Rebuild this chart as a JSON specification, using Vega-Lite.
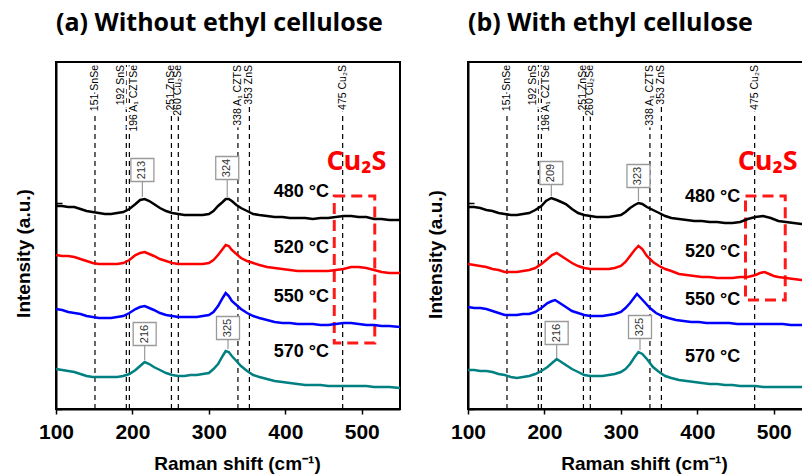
{
"$schema": "https://vega.github.io/schema/vega-lite/v6.json",
"padding": {"left": 13, "top": 10, "right": 0, "bottom": 0},
"background": "white",
"spacing": 19,
"config": {
 "view": {"stroke": "black", "strokeWidth": 2},
 "axis": {"domainColor": "black", "domainWidth": 2, "tickColor": "black", "tickWidth": 1.5, "grid": false, "labelFont": "Liberation Sans", "labelFontWeight": "bold", "labelFontSize": 21, "labelColor": "black", "titleFont": "Liberation Sans", "titleFontWeight": "bold", "titleFontSize": 19, "titleColor": "black"},
 "title": {"font": "Open Sans", "fontSize": 25, "fontWeight": "bold", "color": "black", "anchor": "start", "offset": 26, "frame": "group"}
},
"datasets": {
 "spec": [
{"p":"a","t":"480","x":100,"y":203},{"p":"a","t":"480","x":108,"y":203},{"p":"a","t":"480","x":116,"y":202},{"p":"a","t":"480","x":124,"y":202},{"p":"a","t":"480","x":132,"y":200},{"p":"a","t":"480","x":140,"y":198},{"p":"a","t":"480","x":148,"y":197},{"p":"a","t":"480","x":156,"y":196},{"p":"a","t":"480","x":164,"y":195},{"p":"a","t":"480","x":172,"y":195},{"p":"a","t":"480","x":180,"y":196},{"p":"a","t":"480","x":188,"y":197},{"p":"a","t":"480","x":196,"y":200},{"p":"a","t":"480","x":204,"y":205},{"p":"a","t":"480","x":210,"y":209},{"p":"a","t":"480","x":216,"y":210},{"p":"a","t":"480","x":222,"y":208},{"p":"a","t":"480","x":228,"y":205},{"p":"a","t":"480","x":236,"y":201},{"p":"a","t":"480","x":244,"y":198},{"p":"a","t":"480","x":252,"y":196},{"p":"a","t":"480","x":260,"y":195},{"p":"a","t":"480","x":268,"y":194},{"p":"a","t":"480","x":276,"y":194},{"p":"a","t":"480","x":284,"y":194},{"p":"a","t":"480","x":292,"y":194},{"p":"a","t":"480","x":300,"y":195},{"p":"a","t":"480","x":306,"y":198},{"p":"a","t":"480","x":312,"y":203},{"p":"a","t":"480","x":318,"y":207},{"p":"a","t":"480","x":322,"y":210},{"p":"a","t":"480","x":326,"y":210},{"p":"a","t":"480","x":330,"y":208},{"p":"a","t":"480","x":336,"y":204},{"p":"a","t":"480","x":342,"y":201},{"p":"a","t":"480","x":350,"y":198},{"p":"a","t":"480","x":358,"y":195},{"p":"a","t":"480","x":366,"y":194},{"p":"a","t":"480","x":376,"y":193},{"p":"a","t":"480","x":386,"y":192},{"p":"a","t":"480","x":396,"y":192},{"p":"a","t":"480","x":406,"y":191},{"p":"a","t":"480","x":416,"y":191},{"p":"a","t":"480","x":426,"y":191},{"p":"a","t":"480","x":436,"y":190},{"p":"a","t":"480","x":446,"y":191},{"p":"a","t":"480","x":456,"y":191},{"p":"a","t":"480","x":466,"y":192},{"p":"a","t":"480","x":476,"y":193},{"p":"a","t":"480","x":486,"y":193},{"p":"a","t":"480","x":496,"y":192},{"p":"a","t":"480","x":506,"y":192},{"p":"a","t":"480","x":516,"y":190},{"p":"a","t":"480","x":526,"y":190},{"p":"a","t":"480","x":536,"y":189},{"p":"a","t":"480","x":550,"y":189},
{"p":"a","t":"520","x":100,"y":154},{"p":"a","t":"520","x":108,"y":153},{"p":"a","t":"520","x":116,"y":153},{"p":"a","t":"520","x":124,"y":152},{"p":"a","t":"520","x":132,"y":150},{"p":"a","t":"520","x":140,"y":148},{"p":"a","t":"520","x":148,"y":146},{"p":"a","t":"520","x":156,"y":145},{"p":"a","t":"520","x":164,"y":145},{"p":"a","t":"520","x":172,"y":145},{"p":"a","t":"520","x":180,"y":145},{"p":"a","t":"520","x":188,"y":146},{"p":"a","t":"520","x":196,"y":149},{"p":"a","t":"520","x":204,"y":154},{"p":"a","t":"520","x":210,"y":156},{"p":"a","t":"520","x":216,"y":157},{"p":"a","t":"520","x":222,"y":155},{"p":"a","t":"520","x":228,"y":153},{"p":"a","t":"520","x":236,"y":150},{"p":"a","t":"520","x":244,"y":148},{"p":"a","t":"520","x":252,"y":146},{"p":"a","t":"520","x":260,"y":145},{"p":"a","t":"520","x":268,"y":145},{"p":"a","t":"520","x":276,"y":145},{"p":"a","t":"520","x":284,"y":145},{"p":"a","t":"520","x":292,"y":145},{"p":"a","t":"520","x":300,"y":146},{"p":"a","t":"520","x":306,"y":149},{"p":"a","t":"520","x":312,"y":154},{"p":"a","t":"520","x":318,"y":160},{"p":"a","t":"520","x":322,"y":164},{"p":"a","t":"520","x":326,"y":163},{"p":"a","t":"520","x":330,"y":159},{"p":"a","t":"520","x":336,"y":155},{"p":"a","t":"520","x":342,"y":151},{"p":"a","t":"520","x":350,"y":148},{"p":"a","t":"520","x":358,"y":146},{"p":"a","t":"520","x":366,"y":144},{"p":"a","t":"520","x":376,"y":142},{"p":"a","t":"520","x":386,"y":141},{"p":"a","t":"520","x":396,"y":140},{"p":"a","t":"520","x":406,"y":139},{"p":"a","t":"520","x":416,"y":138},{"p":"a","t":"520","x":426,"y":138},{"p":"a","t":"520","x":436,"y":138},{"p":"a","t":"520","x":446,"y":138},{"p":"a","t":"520","x":456,"y":138},{"p":"a","t":"520","x":466,"y":139},{"p":"a","t":"520","x":476,"y":140},{"p":"a","t":"520","x":486,"y":142},{"p":"a","t":"520","x":496,"y":142},{"p":"a","t":"520","x":506,"y":141},{"p":"a","t":"520","x":516,"y":139},{"p":"a","t":"520","x":526,"y":137},{"p":"a","t":"520","x":536,"y":136},{"p":"a","t":"520","x":550,"y":136},
{"p":"a","t":"550","x":100,"y":100},{"p":"a","t":"550","x":108,"y":99},{"p":"a","t":"550","x":116,"y":97},{"p":"a","t":"550","x":124,"y":96},{"p":"a","t":"550","x":132,"y":95},{"p":"a","t":"550","x":140,"y":93},{"p":"a","t":"550","x":148,"y":92},{"p":"a","t":"550","x":156,"y":91},{"p":"a","t":"550","x":164,"y":91},{"p":"a","t":"550","x":172,"y":91},{"p":"a","t":"550","x":180,"y":92},{"p":"a","t":"550","x":188,"y":93},{"p":"a","t":"550","x":196,"y":96},{"p":"a","t":"550","x":204,"y":100},{"p":"a","t":"550","x":210,"y":102},{"p":"a","t":"550","x":216,"y":103},{"p":"a","t":"550","x":222,"y":101},{"p":"a","t":"550","x":228,"y":99},{"p":"a","t":"550","x":236,"y":96},{"p":"a","t":"550","x":244,"y":94},{"p":"a","t":"550","x":252,"y":93},{"p":"a","t":"550","x":260,"y":92},{"p":"a","t":"550","x":268,"y":92},{"p":"a","t":"550","x":276,"y":92},{"p":"a","t":"550","x":284,"y":92},{"p":"a","t":"550","x":292,"y":93},{"p":"a","t":"550","x":300,"y":94},{"p":"a","t":"550","x":306,"y":97},{"p":"a","t":"550","x":312,"y":103},{"p":"a","t":"550","x":318,"y":111},{"p":"a","t":"550","x":322,"y":116},{"p":"a","t":"550","x":326,"y":113},{"p":"a","t":"550","x":330,"y":108},{"p":"a","t":"550","x":336,"y":104},{"p":"a","t":"550","x":342,"y":100},{"p":"a","t":"550","x":350,"y":96},{"p":"a","t":"550","x":358,"y":93},{"p":"a","t":"550","x":366,"y":91},{"p":"a","t":"550","x":376,"y":89},{"p":"a","t":"550","x":386,"y":87},{"p":"a","t":"550","x":396,"y":86},{"p":"a","t":"550","x":406,"y":86},{"p":"a","t":"550","x":416,"y":85},{"p":"a","t":"550","x":426,"y":85},{"p":"a","t":"550","x":436,"y":85},{"p":"a","t":"550","x":446,"y":84},{"p":"a","t":"550","x":456,"y":84},{"p":"a","t":"550","x":466,"y":85},{"p":"a","t":"550","x":476,"y":86},{"p":"a","t":"550","x":486,"y":86},{"p":"a","t":"550","x":496,"y":85},{"p":"a","t":"550","x":506,"y":84},{"p":"a","t":"550","x":516,"y":84},{"p":"a","t":"550","x":526,"y":83},{"p":"a","t":"550","x":536,"y":83},{"p":"a","t":"550","x":550,"y":82},
{"p":"a","t":"570","x":100,"y":40},{"p":"a","t":"570","x":108,"y":39},{"p":"a","t":"570","x":116,"y":38},{"p":"a","t":"570","x":124,"y":37},{"p":"a","t":"570","x":132,"y":35},{"p":"a","t":"570","x":140,"y":33},{"p":"a","t":"570","x":148,"y":32},{"p":"a","t":"570","x":156,"y":32},{"p":"a","t":"570","x":164,"y":32},{"p":"a","t":"570","x":172,"y":32},{"p":"a","t":"570","x":180,"y":32},{"p":"a","t":"570","x":188,"y":33},{"p":"a","t":"570","x":196,"y":35},{"p":"a","t":"570","x":204,"y":39},{"p":"a","t":"570","x":210,"y":43},{"p":"a","t":"570","x":216,"y":47},{"p":"a","t":"570","x":222,"y":45},{"p":"a","t":"570","x":228,"y":42},{"p":"a","t":"570","x":236,"y":39},{"p":"a","t":"570","x":244,"y":36},{"p":"a","t":"570","x":252,"y":34},{"p":"a","t":"570","x":260,"y":33},{"p":"a","t":"570","x":268,"y":33},{"p":"a","t":"570","x":276,"y":34},{"p":"a","t":"570","x":284,"y":34},{"p":"a","t":"570","x":292,"y":35},{"p":"a","t":"570","x":300,"y":36},{"p":"a","t":"570","x":306,"y":40},{"p":"a","t":"570","x":312,"y":45},{"p":"a","t":"570","x":318,"y":53},{"p":"a","t":"570","x":322,"y":58},{"p":"a","t":"570","x":326,"y":57},{"p":"a","t":"570","x":330,"y":53},{"p":"a","t":"570","x":336,"y":48},{"p":"a","t":"570","x":342,"y":43},{"p":"a","t":"570","x":350,"y":38},{"p":"a","t":"570","x":358,"y":34},{"p":"a","t":"570","x":366,"y":32},{"p":"a","t":"570","x":376,"y":30},{"p":"a","t":"570","x":386,"y":28},{"p":"a","t":"570","x":396,"y":27},{"p":"a","t":"570","x":406,"y":26},{"p":"a","t":"570","x":416,"y":25},{"p":"a","t":"570","x":426,"y":24},{"p":"a","t":"570","x":436,"y":24},{"p":"a","t":"570","x":446,"y":24},{"p":"a","t":"570","x":456,"y":23},{"p":"a","t":"570","x":466,"y":23},{"p":"a","t":"570","x":476,"y":23},{"p":"a","t":"570","x":486,"y":23},{"p":"a","t":"570","x":496,"y":23},{"p":"a","t":"570","x":506,"y":23},{"p":"a","t":"570","x":516,"y":22},{"p":"a","t":"570","x":526,"y":22},{"p":"a","t":"570","x":536,"y":22},{"p":"a","t":"570","x":550,"y":21},
{"p":"b","t":"480","x":100,"y":202},{"p":"b","t":"480","x":108,"y":202},{"p":"b","t":"480","x":116,"y":201},{"p":"b","t":"480","x":124,"y":199},{"p":"b","t":"480","x":132,"y":198},{"p":"b","t":"480","x":140,"y":196},{"p":"b","t":"480","x":148,"y":195},{"p":"b","t":"480","x":156,"y":194},{"p":"b","t":"480","x":164,"y":194},{"p":"b","t":"480","x":172,"y":195},{"p":"b","t":"480","x":180,"y":196},{"p":"b","t":"480","x":188,"y":199},{"p":"b","t":"480","x":196,"y":203},{"p":"b","t":"480","x":202,"y":208},{"p":"b","t":"480","x":209,"y":211},{"p":"b","t":"480","x":216,"y":209},{"p":"b","t":"480","x":222,"y":207},{"p":"b","t":"480","x":228,"y":205},{"p":"b","t":"480","x":236,"y":200},{"p":"b","t":"480","x":244,"y":196},{"p":"b","t":"480","x":252,"y":194},{"p":"b","t":"480","x":260,"y":193},{"p":"b","t":"480","x":268,"y":192},{"p":"b","t":"480","x":276,"y":192},{"p":"b","t":"480","x":284,"y":192},{"p":"b","t":"480","x":292,"y":193},{"p":"b","t":"480","x":300,"y":194},{"p":"b","t":"480","x":306,"y":197},{"p":"b","t":"480","x":312,"y":201},{"p":"b","t":"480","x":318,"y":204},{"p":"b","t":"480","x":323,"y":206},{"p":"b","t":"480","x":328,"y":205},{"p":"b","t":"480","x":334,"y":202},{"p":"b","t":"480","x":342,"y":199},{"p":"b","t":"480","x":350,"y":196},{"p":"b","t":"480","x":358,"y":193},{"p":"b","t":"480","x":366,"y":191},{"p":"b","t":"480","x":376,"y":190},{"p":"b","t":"480","x":386,"y":189},{"p":"b","t":"480","x":396,"y":188},{"p":"b","t":"480","x":406,"y":188},{"p":"b","t":"480","x":416,"y":187},{"p":"b","t":"480","x":426,"y":187},{"p":"b","t":"480","x":436,"y":186},{"p":"b","t":"480","x":446,"y":186},{"p":"b","t":"480","x":456,"y":187},{"p":"b","t":"480","x":466,"y":190},{"p":"b","t":"480","x":476,"y":192},{"p":"b","t":"480","x":486,"y":193},{"p":"b","t":"480","x":496,"y":191},{"p":"b","t":"480","x":506,"y":188},{"p":"b","t":"480","x":516,"y":187},{"p":"b","t":"480","x":526,"y":186},{"p":"b","t":"480","x":536,"y":185},{"p":"b","t":"480","x":550,"y":185},
{"p":"b","t":"520","x":100,"y":145},{"p":"b","t":"520","x":108,"y":144},{"p":"b","t":"520","x":116,"y":143},{"p":"b","t":"520","x":124,"y":142},{"p":"b","t":"520","x":132,"y":140},{"p":"b","t":"520","x":140,"y":139},{"p":"b","t":"520","x":148,"y":137},{"p":"b","t":"520","x":156,"y":137},{"p":"b","t":"520","x":164,"y":137},{"p":"b","t":"520","x":172,"y":138},{"p":"b","t":"520","x":180,"y":139},{"p":"b","t":"520","x":188,"y":141},{"p":"b","t":"520","x":196,"y":145},{"p":"b","t":"520","x":204,"y":150},{"p":"b","t":"520","x":210,"y":154},{"p":"b","t":"520","x":216,"y":156},{"p":"b","t":"520","x":222,"y":153},{"p":"b","t":"520","x":228,"y":150},{"p":"b","t":"520","x":236,"y":146},{"p":"b","t":"520","x":244,"y":143},{"p":"b","t":"520","x":252,"y":141},{"p":"b","t":"520","x":260,"y":140},{"p":"b","t":"520","x":268,"y":140},{"p":"b","t":"520","x":276,"y":140},{"p":"b","t":"520","x":284,"y":140},{"p":"b","t":"520","x":292,"y":141},{"p":"b","t":"520","x":300,"y":143},{"p":"b","t":"520","x":306,"y":147},{"p":"b","t":"520","x":312,"y":153},{"p":"b","t":"520","x":318,"y":159},{"p":"b","t":"520","x":323,"y":163},{"p":"b","t":"520","x":328,"y":160},{"p":"b","t":"520","x":334,"y":153},{"p":"b","t":"520","x":342,"y":147},{"p":"b","t":"520","x":350,"y":143},{"p":"b","t":"520","x":358,"y":140},{"p":"b","t":"520","x":366,"y":138},{"p":"b","t":"520","x":376,"y":135},{"p":"b","t":"520","x":386,"y":134},{"p":"b","t":"520","x":396,"y":133},{"p":"b","t":"520","x":406,"y":132},{"p":"b","t":"520","x":416,"y":132},{"p":"b","t":"520","x":426,"y":131},{"p":"b","t":"520","x":436,"y":131},{"p":"b","t":"520","x":446,"y":131},{"p":"b","t":"520","x":456,"y":132},{"p":"b","t":"520","x":466,"y":132},{"p":"b","t":"520","x":476,"y":134},{"p":"b","t":"520","x":482,"y":136},{"p":"b","t":"520","x":488,"y":137},{"p":"b","t":"520","x":494,"y":135},{"p":"b","t":"520","x":500,"y":133},{"p":"b","t":"520","x":506,"y":132},{"p":"b","t":"520","x":516,"y":131},{"p":"b","t":"520","x":526,"y":130},{"p":"b","t":"520","x":536,"y":129},{"p":"b","t":"520","x":550,"y":128},
{"p":"b","t":"550","x":100,"y":102},{"p":"b","t":"550","x":108,"y":101},{"p":"b","t":"550","x":116,"y":101},{"p":"b","t":"550","x":124,"y":100},{"p":"b","t":"550","x":132,"y":98},{"p":"b","t":"550","x":140,"y":96},{"p":"b","t":"550","x":148,"y":94},{"p":"b","t":"550","x":156,"y":94},{"p":"b","t":"550","x":164,"y":94},{"p":"b","t":"550","x":172,"y":95},{"p":"b","t":"550","x":180,"y":95},{"p":"b","t":"550","x":188,"y":97},{"p":"b","t":"550","x":196,"y":101},{"p":"b","t":"550","x":204,"y":106},{"p":"b","t":"550","x":210,"y":108},{"p":"b","t":"550","x":214,"y":109},{"p":"b","t":"550","x":220,"y":106},{"p":"b","t":"550","x":228,"y":102},{"p":"b","t":"550","x":236,"y":98},{"p":"b","t":"550","x":244,"y":96},{"p":"b","t":"550","x":252,"y":94},{"p":"b","t":"550","x":260,"y":93},{"p":"b","t":"550","x":268,"y":93},{"p":"b","t":"550","x":276,"y":93},{"p":"b","t":"550","x":284,"y":94},{"p":"b","t":"550","x":292,"y":95},{"p":"b","t":"550","x":300,"y":97},{"p":"b","t":"550","x":306,"y":101},{"p":"b","t":"550","x":312,"y":106},{"p":"b","t":"550","x":317,"y":111},{"p":"b","t":"550","x":321,"y":115},{"p":"b","t":"550","x":326,"y":111},{"p":"b","t":"550","x":332,"y":106},{"p":"b","t":"550","x":338,"y":101},{"p":"b","t":"550","x":346,"y":96},{"p":"b","t":"550","x":354,"y":93},{"p":"b","t":"550","x":362,"y":91},{"p":"b","t":"550","x":372,"y":89},{"p":"b","t":"550","x":382,"y":88},{"p":"b","t":"550","x":392,"y":87},{"p":"b","t":"550","x":402,"y":87},{"p":"b","t":"550","x":412,"y":86},{"p":"b","t":"550","x":422,"y":86},{"p":"b","t":"550","x":432,"y":86},{"p":"b","t":"550","x":442,"y":86},{"p":"b","t":"550","x":452,"y":85},{"p":"b","t":"550","x":462,"y":85},{"p":"b","t":"550","x":472,"y":85},{"p":"b","t":"550","x":482,"y":85},{"p":"b","t":"550","x":492,"y":85},{"p":"b","t":"550","x":502,"y":85},{"p":"b","t":"550","x":512,"y":85},{"p":"b","t":"550","x":522,"y":84},{"p":"b","t":"550","x":532,"y":84},{"p":"b","t":"550","x":542,"y":84},{"p":"b","t":"550","x":550,"y":84},
{"p":"b","t":"570","x":100,"y":39},{"p":"b","t":"570","x":108,"y":39},{"p":"b","t":"570","x":116,"y":38},{"p":"b","t":"570","x":124,"y":38},{"p":"b","t":"570","x":132,"y":37},{"p":"b","t":"570","x":140,"y":35},{"p":"b","t":"570","x":148,"y":34},{"p":"b","t":"570","x":156,"y":32},{"p":"b","t":"570","x":164,"y":31},{"p":"b","t":"570","x":172,"y":32},{"p":"b","t":"570","x":180,"y":33},{"p":"b","t":"570","x":188,"y":35},{"p":"b","t":"570","x":196,"y":38},{"p":"b","t":"570","x":204,"y":42},{"p":"b","t":"570","x":210,"y":46},{"p":"b","t":"570","x":216,"y":50},{"p":"b","t":"570","x":222,"y":47},{"p":"b","t":"570","x":228,"y":44},{"p":"b","t":"570","x":236,"y":40},{"p":"b","t":"570","x":244,"y":37},{"p":"b","t":"570","x":252,"y":34},{"p":"b","t":"570","x":260,"y":33},{"p":"b","t":"570","x":268,"y":33},{"p":"b","t":"570","x":276,"y":33},{"p":"b","t":"570","x":284,"y":34},{"p":"b","t":"570","x":292,"y":35},{"p":"b","t":"570","x":300,"y":37},{"p":"b","t":"570","x":306,"y":40},{"p":"b","t":"570","x":312,"y":45},{"p":"b","t":"570","x":318,"y":52},{"p":"b","t":"570","x":323,"y":57},{"p":"b","t":"570","x":328,"y":55},{"p":"b","t":"570","x":334,"y":50},{"p":"b","t":"570","x":342,"y":42},{"p":"b","t":"570","x":350,"y":37},{"p":"b","t":"570","x":358,"y":33},{"p":"b","t":"570","x":366,"y":31},{"p":"b","t":"570","x":376,"y":29},{"p":"b","t":"570","x":386,"y":28},{"p":"b","t":"570","x":396,"y":27},{"p":"b","t":"570","x":406,"y":26},{"p":"b","t":"570","x":416,"y":25},{"p":"b","t":"570","x":426,"y":25},{"p":"b","t":"570","x":436,"y":24},{"p":"b","t":"570","x":446,"y":24},{"p":"b","t":"570","x":456,"y":23},{"p":"b","t":"570","x":466,"y":23},{"p":"b","t":"570","x":476,"y":23},{"p":"b","t":"570","x":486,"y":22},{"p":"b","t":"570","x":496,"y":22},{"p":"b","t":"570","x":506,"y":22},{"p":"b","t":"570","x":516,"y":22},{"p":"b","t":"570","x":526,"y":22},{"p":"b","t":"570","x":536,"y":22},{"p":"b","t":"570","x":550,"y":22}
 ],
 "lab": [
  {"x":151,"l":"151 SnSe"},{"x":192,"l":"192 SnS"},{"x":196,"l":"196 A₁ CZTSe"},{"x":251,"l":"251 ZnSe"},{"x":260,"l":"260 Cu₂Se"},{"x":338,"l":"338 A₁ CZTS"},{"x":353,"l":"353 ZnS"},{"x":475,"l":"475 Cu₂S"}
 ],
 "ann": [
  {"p":"a","x":213,"l":"213","y":239,"yb":227,"yp":212},
  {"p":"a","x":324,"l":"324","y":241,"yb":229,"yp":212},
  {"p":"a","x":216,"l":"216","y":75,"yb":63,"yp":49},
  {"p":"a","x":325,"l":"325","y":81,"yb":69,"yp":60},
  {"p":"b","x":209,"l":"209","y":236,"yb":224,"yp":213},
  {"p":"b","x":323,"l":"323","y":233,"yb":221,"yp":208},
  {"p":"b","x":216,"l":"216","y":76,"yb":64,"yp":51},
  {"p":"b","x":325,"l":"325","y":82,"yb":70,"yp":59}
 ],
 "tmp": [
  {"p":"a","x":421,"y":217,"l":"480 °C"},{"p":"a","x":421,"y":161,"l":"520 °C"},{"p":"a","x":421,"y":112,"l":"550 °C"},{"p":"a","x":421,"y":57,"l":"570 °C"},
  {"p":"b","x":420,"y":212,"l":"480 °C"},{"p":"b","x":420,"y":157,"l":"520 °C"},{"p":"b","x":420,"y":109,"l":"550 °C"},{"p":"b","x":420,"y":52,"l":"570 °C"}
 ],
 "box": [
  {"p":"a","x":464,"x2":517,"y":213,"y2":66},
  {"p":"b","x":463,"x2":515,"y":213,"y2":109}
 ],
 "cu": [
  {"p":"a","x":493,"y":239,"l":"Cu₂S"},
  {"p":"b","x":492,"y":239,"l":"Cu₂S"}
 ]
},
"hconcat": [
 {
  "width": 344, "height": 347,
  "title": {"text": "(a) Without ethyl cellulose"},
  "layer": [
   {"data": {"name": "lab"}, "mark": {"type": "rule", "strokeDash": [5, 4], "strokeWidth": 1.2, "color": "black"},
    "encoding": {
     "x": {"field": "x", "type": "quantitative", "scale": {"domain": [100, 550], "nice": false}, "axis": {"title": "Raman shift (cm⁻¹)", "titleX": 181, "values": [100,150,200,250,300,350,400,450,500,550], "labelExpr": "datum.value % 100 == 0 ? datum.label : ''", "labelFlush": false, "labelOverlap": false, "tickSize": 5, "labelPadding": 7, "titlePadding": 12}},
     "y": {"datum": 0, "type": "quantitative", "scale": {"domain": [0, 347], "nice": false}, "axis": {"title": "Intensity (a.u.)", "titleY": 191, "labels": false, "values": [0, 206], "tickSize": -6, "titlePadding": 22}},
     "y2": {"datum": 344}}},
   {"data": {"name": "box"}, "transform": [{"filter": "datum.p == 'a'"}], "mark": {"type": "rect", "fill": null, "stroke": "#ff1a1a", "strokeWidth": 3, "strokeDash": [11, 6]},
    "encoding": {"x": {"field": "x", "type": "quantitative"}, "x2": {"field": "x2"}, "y": {"field": "y", "type": "quantitative"}, "y2": {"field": "y2"}}},
   {"data": {"name": "spec"}, "transform": [{"filter": "datum.p == 'a'"}], "mark": {"type": "line", "strokeWidth": 2.5},
    "encoding": {"x": {"field": "x", "type": "quantitative"}, "y": {"field": "y", "type": "quantitative"},
     "color": {"field": "t", "type": "nominal", "scale": {"domain": ["480","520","550","570"], "range": ["#000000","#ff0000","#0000ff","#008080"]}, "legend": null}}},
   {"data": {"name": "ann"}, "transform": [{"filter": "datum.p == 'a'"}], "mark": {"type": "rule", "color": "#9a9a9a", "strokeWidth": 1.2},
    "encoding": {"x": {"field": "x", "type": "quantitative"}, "y": {"field": "yb", "type": "quantitative"}, "y2": {"field": "yp"}}},
   {"data": {"name": "ann"}, "transform": [{"filter": "datum.p == 'a'"}], "mark": {"type": "point", "shape": "square", "size": 529, "filled": true, "fill": "white", "stroke": "#9a9a9a", "strokeWidth": 1.3, "opacity": 1},
    "encoding": {"x": {"field": "x", "type": "quantitative"}, "y": {"field": "y", "type": "quantitative"}}},
   {"data": {"name": "ann"}, "transform": [{"filter": "datum.p == 'a'"}], "mark": {"type": "text", "angle": 270, "font": "Liberation Sans", "fontSize": 11, "color": "#333333", "align": "center", "baseline": "middle"},
    "encoding": {"x": {"field": "x", "type": "quantitative"}, "y": {"field": "y", "type": "quantitative"}, "text": {"field": "l"}}},
   {"data": {"name": "lab"}, "transform": [{"filter": "datum.x != 192 && datum.x != 196"}], "mark": {"type": "text", "angle": 270, "font": "Liberation Sans", "fontSize": 10.5, "align": "right", "baseline": "middle", "fill": "white", "stroke": "white", "strokeWidth": 4},
    "encoding": {"x": {"field": "x", "type": "quantitative"}, "y": {"datum": 344, "type": "quantitative"}, "text": {"field": "l"}}},
   {"data": {"name": "lab"}, "transform": [{"filter": "datum.x == 192"}], "mark": {"type": "text", "angle": 270, "font": "Liberation Sans", "fontSize": 10.5, "align": "right", "baseline": "bottom", "fill": "white", "stroke": "white", "strokeWidth": 4},
    "encoding": {"x": {"field": "x", "type": "quantitative"}, "y": {"datum": 344, "type": "quantitative"}, "text": {"field": "l"}}},
   {"data": {"name": "lab"}, "transform": [{"filter": "datum.x == 196"}], "mark": {"type": "text", "angle": 270, "font": "Liberation Sans", "fontSize": 10.5, "align": "right", "baseline": "top", "fill": "white", "stroke": "white", "strokeWidth": 4},
    "encoding": {"x": {"field": "x", "type": "quantitative"}, "y": {"datum": 344, "type": "quantitative"}, "text": {"field": "l"}}},
   {"data": {"name": "lab"}, "transform": [{"filter": "datum.x != 192 && datum.x != 196"}], "mark": {"type": "text", "angle": 270, "font": "Liberation Sans", "fontSize": 10.5, "align": "right", "baseline": "middle", "color": "black"},
    "encoding": {"x": {"field": "x", "type": "quantitative"}, "y": {"datum": 344, "type": "quantitative"}, "text": {"field": "l"}}},
   {"data": {"name": "lab"}, "transform": [{"filter": "datum.x == 192"}], "mark": {"type": "text", "angle": 270, "font": "Liberation Sans", "fontSize": 10.5, "align": "right", "baseline": "bottom", "color": "black"},
    "encoding": {"x": {"field": "x", "type": "quantitative"}, "y": {"datum": 344, "type": "quantitative"}, "text": {"field": "l"}}},
   {"data": {"name": "lab"}, "transform": [{"filter": "datum.x == 196"}], "mark": {"type": "text", "angle": 270, "font": "Liberation Sans", "fontSize": 10.5, "align": "right", "baseline": "top", "color": "black"},
    "encoding": {"x": {"field": "x", "type": "quantitative"}, "y": {"datum": 344, "type": "quantitative"}, "text": {"field": "l"}}},
   {"data": {"name": "tmp"}, "transform": [{"filter": "datum.p == 'a'"}], "mark": {"type": "text", "font": "Liberation Sans", "fontSize": 18, "fontWeight": "bold", "color": "black", "align": "center", "baseline": "middle"},
    "encoding": {"x": {"field": "x", "type": "quantitative"}, "y": {"field": "y", "type": "quantitative"}, "text": {"field": "l"}}},
   {"data": {"name": "cu"}, "transform": [{"filter": "datum.p == 'a'"}], "mark": {"type": "text", "font": "Open Sans", "fontSize": 27, "fontWeight": "bold", "color": "#ff0000", "align": "center", "baseline": "alphabetic"},
    "encoding": {"x": {"field": "x", "type": "quantitative"}, "y": {"field": "y", "type": "quantitative"}, "text": {"field": "l"}}}
  ]
 },
 {
  "width": 344, "height": 347,
  "title": {"text": "(b) With ethyl cellulose"},
  "layer": [
   {"data": {"name": "lab"}, "mark": {"type": "rule", "strokeDash": [5, 4], "strokeWidth": 1.2, "color": "black"},
    "encoding": {
     "x": {"field": "x", "type": "quantitative", "scale": {"domain": [100, 550], "nice": false}, "axis": {"title": "Raman shift (cm⁻¹)", "titleX": 176, "values": [100,150,200,250,300,350,400,450,500,550], "labelExpr": "datum.value % 100 == 0 ? datum.label : ''", "labelFlush": false, "labelOverlap": false, "tickSize": 5, "labelPadding": 7, "titlePadding": 12}},
     "y": {"datum": 0, "type": "quantitative", "scale": {"domain": [0, 347], "nice": false}, "axis": {"title": "Intensity (a.u.)", "titleY": 192, "labels": false, "values": [0, 206], "tickSize": -6, "titlePadding": 22}},
     "y2": {"datum": 344}}},
   {"data": {"name": "box"}, "transform": [{"filter": "datum.p == 'b'"}], "mark": {"type": "rect", "fill": null, "stroke": "#ff1a1a", "strokeWidth": 3, "strokeDash": [11, 6]},
    "encoding": {"x": {"field": "x", "type": "quantitative"}, "x2": {"field": "x2"}, "y": {"field": "y", "type": "quantitative"}, "y2": {"field": "y2"}}},
   {"data": {"name": "spec"}, "transform": [{"filter": "datum.p == 'b'"}], "mark": {"type": "line", "strokeWidth": 2.5},
    "encoding": {"x": {"field": "x", "type": "quantitative"}, "y": {"field": "y", "type": "quantitative"},
     "color": {"field": "t", "type": "nominal", "scale": {"domain": ["480","520","550","570"], "range": ["#000000","#ff0000","#0000ff","#008080"]}, "legend": null}}},
   {"data": {"name": "ann"}, "transform": [{"filter": "datum.p == 'b'"}], "mark": {"type": "rule", "color": "#9a9a9a", "strokeWidth": 1.2},
    "encoding": {"x": {"field": "x", "type": "quantitative"}, "y": {"field": "yb", "type": "quantitative"}, "y2": {"field": "yp"}}},
   {"data": {"name": "ann"}, "transform": [{"filter": "datum.p == 'b'"}], "mark": {"type": "point", "shape": "square", "size": 529, "filled": true, "fill": "white", "stroke": "#9a9a9a", "strokeWidth": 1.3, "opacity": 1},
    "encoding": {"x": {"field": "x", "type": "quantitative"}, "y": {"field": "y", "type": "quantitative"}}},
   {"data": {"name": "ann"}, "transform": [{"filter": "datum.p == 'b'"}], "mark": {"type": "text", "angle": 270, "font": "Liberation Sans", "fontSize": 11, "color": "#333333", "align": "center", "baseline": "middle"},
    "encoding": {"x": {"field": "x", "type": "quantitative"}, "y": {"field": "y", "type": "quantitative"}, "text": {"field": "l"}}},
   {"data": {"name": "lab"}, "transform": [{"filter": "datum.x != 192 && datum.x != 196"}], "mark": {"type": "text", "angle": 270, "font": "Liberation Sans", "fontSize": 10.5, "align": "right", "baseline": "middle", "fill": "white", "stroke": "white", "strokeWidth": 4},
    "encoding": {"x": {"field": "x", "type": "quantitative"}, "y": {"datum": 344, "type": "quantitative"}, "text": {"field": "l"}}},
   {"data": {"name": "lab"}, "transform": [{"filter": "datum.x == 192"}], "mark": {"type": "text", "angle": 270, "font": "Liberation Sans", "fontSize": 10.5, "align": "right", "baseline": "bottom", "fill": "white", "stroke": "white", "strokeWidth": 4},
    "encoding": {"x": {"field": "x", "type": "quantitative"}, "y": {"datum": 344, "type": "quantitative"}, "text": {"field": "l"}}},
   {"data": {"name": "lab"}, "transform": [{"filter": "datum.x == 196"}], "mark": {"type": "text", "angle": 270, "font": "Liberation Sans", "fontSize": 10.5, "align": "right", "baseline": "top", "fill": "white", "stroke": "white", "strokeWidth": 4},
    "encoding": {"x": {"field": "x", "type": "quantitative"}, "y": {"datum": 344, "type": "quantitative"}, "text": {"field": "l"}}},
   {"data": {"name": "lab"}, "transform": [{"filter": "datum.x != 192 && datum.x != 196"}], "mark": {"type": "text", "angle": 270, "font": "Liberation Sans", "fontSize": 10.5, "align": "right", "baseline": "middle", "color": "black"},
    "encoding": {"x": {"field": "x", "type": "quantitative"}, "y": {"datum": 344, "type": "quantitative"}, "text": {"field": "l"}}},
   {"data": {"name": "lab"}, "transform": [{"filter": "datum.x == 192"}], "mark": {"type": "text", "angle": 270, "font": "Liberation Sans", "fontSize": 10.5, "align": "right", "baseline": "bottom", "color": "black"},
    "encoding": {"x": {"field": "x", "type": "quantitative"}, "y": {"datum": 344, "type": "quantitative"}, "text": {"field": "l"}}},
   {"data": {"name": "lab"}, "transform": [{"filter": "datum.x == 196"}], "mark": {"type": "text", "angle": 270, "font": "Liberation Sans", "fontSize": 10.5, "align": "right", "baseline": "top", "color": "black"},
    "encoding": {"x": {"field": "x", "type": "quantitative"}, "y": {"datum": 344, "type": "quantitative"}, "text": {"field": "l"}}},
   {"data": {"name": "tmp"}, "transform": [{"filter": "datum.p == 'b'"}], "mark": {"type": "text", "font": "Liberation Sans", "fontSize": 18, "fontWeight": "bold", "color": "black", "align": "center", "baseline": "middle"},
    "encoding": {"x": {"field": "x", "type": "quantitative"}, "y": {"field": "y", "type": "quantitative"}, "text": {"field": "l"}}},
   {"data": {"name": "cu"}, "transform": [{"filter": "datum.p == 'b'"}], "mark": {"type": "text", "font": "Open Sans", "fontSize": 27, "fontWeight": "bold", "color": "#ff0000", "align": "center", "baseline": "alphabetic"},
    "encoding": {"x": {"field": "x", "type": "quantitative"}, "y": {"field": "y", "type": "quantitative"}, "text": {"field": "l"}}}
  ]
 }
]
}
